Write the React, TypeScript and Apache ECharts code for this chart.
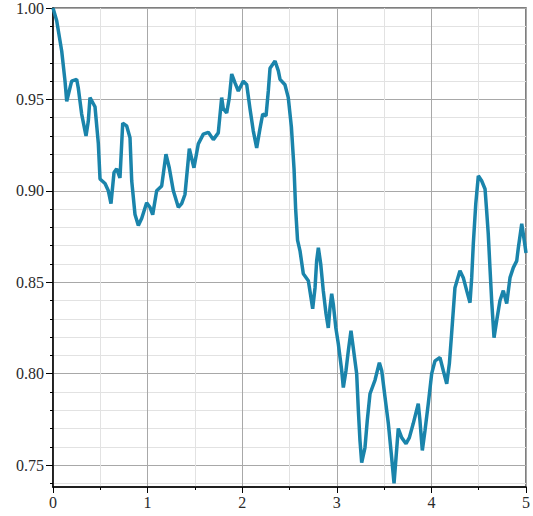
import React, { useEffect, useRef } from "react";
import * as echarts from "echarts";

// Sampled path: time (x) and normalised value (y)
const timeValues: number[] = [
  0, 0.039, 0.092, 0.127, 0.145, 0.197, 0.25, 0.268, 0.303, 0.349,
  0.373, 0.391, 0.444, 0.479, 0.497, 0.55, 0.585, 0.613, 0.645, 0.673,
  0.708, 0.737, 0.779, 0.814, 0.832, 0.867, 0.902, 0.938, 0.99, 1.025,
  1.054, 1.096, 1.149, 1.194, 1.229, 1.272, 1.325, 1.36, 1.395, 1.441,
  1.49, 1.536, 1.589, 1.642, 1.695, 1.747, 1.783, 1.8, 1.836, 1.864,
  1.889, 1.924, 1.959, 2.012, 2.048, 2.082, 2.117, 2.153, 2.188, 2.217,
  2.252, 2.276, 2.294, 2.347, 2.382, 2.4, 2.452, 2.487, 2.52, 2.548,
  2.565, 2.585, 2.611, 2.646, 2.699, 2.724, 2.745, 2.77, 2.787, 2.805,
  2.83, 2.857, 2.886, 2.91, 2.928, 2.946, 2.963, 2.99, 3.016, 3.052,
  3.069, 3.097, 3.122, 3.15, 3.174, 3.21, 3.228, 3.245, 3.263, 3.298,
  3.322, 3.351, 3.404, 3.45, 3.475, 3.51, 3.545, 3.58, 3.605, 3.626,
  3.65, 3.686, 3.732, 3.767, 3.808, 3.861, 3.879, 3.904, 3.932, 3.967,
  4.003, 4.038, 4.091, 4.126, 4.162, 4.19, 4.214, 4.249, 4.302, 4.337,
  4.373, 4.408, 4.426, 4.443, 4.469, 4.496, 4.531, 4.567, 4.584, 4.601,
  4.619, 4.637, 4.662, 4.69, 4.725, 4.76, 4.796, 4.831, 4.866, 4.902,
  4.919, 4.955, 4.982, 5.0,
];

const pathValues: number[] = [
  1.0, 0.993, 0.9765, 0.96, 0.949, 0.96, 0.961, 0.956, 0.942, 0.93,
  0.938, 0.951, 0.946, 0.926, 0.9065, 0.904, 0.9, 0.893, 0.91, 0.912,
  0.907, 0.937, 0.9355, 0.929, 0.9055, 0.887, 0.881, 0.885, 0.8935, 0.891,
  0.887, 0.9, 0.9027, 0.92, 0.9126, 0.9, 0.891, 0.893, 0.898, 0.923,
  0.9126, 0.9257, 0.931, 0.932, 0.928, 0.9317, 0.951, 0.945, 0.9426, 0.951,
  0.9639, 0.959, 0.9546, 0.96, 0.958, 0.945, 0.9328, 0.9235, 0.934, 0.942,
  0.941, 0.9546, 0.967, 0.971, 0.9656, 0.961, 0.958, 0.951, 0.935, 0.912,
  0.89, 0.873, 0.8672, 0.8546, 0.8508, 0.8426, 0.8355, 0.847, 0.8617, 0.8689,
  0.86, 0.8454, 0.8328, 0.825, 0.836, 0.8437, 0.838, 0.825, 0.8164, 0.8016,
  0.7924, 0.8016, 0.8126, 0.8235, 0.8142, 0.8, 0.7798, 0.7634, 0.7514, 0.7596,
  0.7743, 0.789, 0.7965, 0.806, 0.8016, 0.787, 0.7727, 0.754, 0.74, 0.754,
  0.77, 0.765, 0.7617, 0.765, 0.7727, 0.7836, 0.7743, 0.758, 0.7688, 0.7836,
  0.8, 0.807, 0.8088, 0.8016, 0.7945, 0.8055, 0.822, 0.847, 0.8563, 0.8525,
  0.8454, 0.8388, 0.8525, 0.871, 0.8929, 0.9082, 0.9055, 0.901, 0.889, 0.8765,
  0.858, 0.84, 0.8197, 0.829, 0.84, 0.8454, 0.8383, 0.8525, 0.858, 0.8617,
  0.8689, 0.882, 0.8727, 0.866,
];

// Axis tick positions
const yMajorTicks: number[] = [0.75, 0.8, 0.85, 0.9, 0.95, 1.0];
const yMinorTicks: number[] = [
  0.74, 0.75, 0.76, 0.77, 0.78, 0.79, 0.8, 0.81, 0.82, 0.83, 0.84, 0.85, 0.86,
  0.87, 0.88, 0.89, 0.9, 0.91, 0.92, 0.93, 0.94, 0.95, 0.96, 0.97, 0.98, 0.99, 1.0,
];
const yMin = 0.738;
const yMax = 1.0;
const xMin = 0;
const xMax = 5;

const labelFont = {
  fontFamily: "Times New Roman",
  fontSize: 16,
  fontWeight: "normal" as const,
  color: "#2a2a2a",
};

export default function App() {
  const ref = useRef<HTMLDivElement>(null);

  useEffect(() => {
    if (!ref.current) return;
    const chart = echarts.init(ref.current, undefined, { renderer: "svg" });
    const points = timeValues.map((t, i) => [t, pathValues[i]]);

    chart.setOption({
      animation: false,
      backgroundColor: "#fff",
      textStyle: { fontFamily: "Times New Roman" },
      grid: {
        left: 53,
        right: 6,
        top: 7,
        bottom: 29,
        show: true,
        borderColor: "#555",
        borderWidth: 1.5,
        backgroundColor: "transparent",
      },
      xAxis: {
        type: "value",
        min: xMin,
        max: xMax,
        interval: 1,
        axisLine: { show: true, onZero: false, lineStyle: { color: "#000", width: 1.5 } },
        axisTick: { show: true, length: 6, lineStyle: { color: "#000" } },
        minorTick: { show: true, splitNumber: 2, length: 3, lineStyle: { color: "#000" } },
        axisLabel: { ...labelFont, margin: 7 },
        splitLine: { show: true, lineStyle: { color: "#a8a8a8", width: 1 } },
        minorSplitLine: { show: true, lineStyle: { color: "#e2e2e2", width: 1 } },
      },
      yAxis: [
        {
          // fine 0.01 ticks and faint grid
          type: "value",
          position: "left",
          min: yMin,
          max: yMax,
          axisLine: { show: false },
          axisLabel: { show: false },
          axisTick: {
            show: true,
            customValues: yMinorTicks,
            length: 3,
            lineStyle: { color: "#000" },
          },
          splitLine: { show: true, lineStyle: { color: "#e2e2e2", width: 1 } },
        },
        {
          // labelled 0.05 ticks and main grid
          type: "value",
          position: "left",
          min: yMin,
          max: yMax,
          axisLine: { show: true, onZero: false, lineStyle: { color: "#000", width: 1.5 } },
          axisTick: {
            show: true,
            customValues: yMajorTicks,
            length: 7,
            lineStyle: { color: "#000" },
          },
          axisLabel: {
            ...labelFont,
            margin: 9,
            customValues: yMajorTicks,
            formatter: (v: number) => v.toFixed(2),
          },
          splitLine: { show: true, lineStyle: { color: "#a8a8a8", width: 1 } },
        },
      ],
      series: [
        {
          type: "line",
          xAxisIndex: 0,
          yAxisIndex: 1,
          data: points,
          showSymbol: false,
          symbol: "none",
          lineStyle: { color: "#1a84ab", width: 3.5 },
          z: 5,
        },
      ],
    });

    return () => chart.dispose();
  }, []);

  return (
    <div
      ref={ref}
      style={{ position: "absolute", left: 0, top: 0, width: 533, height: 516 }}
    />
  );
}
